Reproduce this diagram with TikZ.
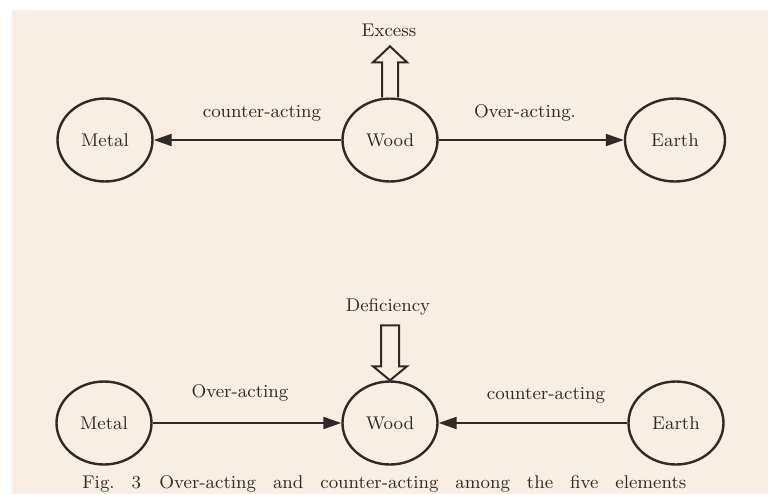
\documentclass[tikz,border=0pt]{standalone}
\usepackage{tikz}
\usetikzlibrary{positioning}
\usetikzlibrary{shapes.geometric,arrows.meta}
\definecolor{paper}{RGB}{248,238,227}
\definecolor{ink}{RGB}{48,42,38}

\begin{document}
\begin{tikzpicture}[x=0.5pt,y=-0.5pt,
        every node/.style={font=\fontsize{9.2}{11}\selectfont, text=ink},
        elem/.style={draw=ink, line width=1.2pt, ellipse, minimum width=47.5pt, minimum height=41.5pt, inner sep=0pt},
        act/.style={draw=ink, line width=1pt, -{Triangle[length=9pt,width=6pt]}},
        hollow/.style={draw=ink, line width=1pt, fill=paper, line join=miter}]
    \clip (0,0) rectangle (768,494);
    \fill[white] (0,0) rectangle (768,494);
    \fill[paper] (12,10) rectangle (768,494);

    \node[elem] (tmetal) at (105,140) {Metal};
    \node[elem] (twood) at (390,140) {Wood};
    \node[elem, minimum width=50pt] (tearth) at (675,140) {Earth};
    \draw[act] (twood) -- (tmetal);
    \draw[act] (twood) -- (tearth);
    \node (tcounter) at (262,113) {counter-acting};
    \node (tover) at (525,113) {Over-acting.};
    \draw[hollow] ([xshift=-4pt]twood.north) -- ++(0,-35) -- ++(-9,0) -- ++(17,-16)
        -- ++(17,16) -- ++(-9,0) -- ++(0,35);
    \node (excess) at (389,30) {Excess};

    \node[elem] (bmetal) at (104,423) {Metal};
    \node[elem] (bwood) at (390,423) {Wood};
    \node[elem] (bearth) at (676,423) {Earth};
    \draw[act] (bmetal) -- (bwood);
    \draw[act] (bearth) -- (bwood);
    \node (bover) at (240,393) {Over-acting};
    \node (bcounter) at (546,395) {counter-acting};
    \draw[hollow] (bwood.north) -- ++(-17,-14) -- ++(8,0) -- ++(0,-41) -- ++(18,0)
        -- ++(0,41) -- ++(8,0) -- cycle;
    \node (deficiency) at (388,307) {Deficiency};

    \node[anchor=base west, inner sep=0pt] (caption) at (82,488)
        {\makebox[302pt][s]{Fig.~3\quad Over-acting and counter-acting among the five elements}};
\end{tikzpicture}
\end{document}
